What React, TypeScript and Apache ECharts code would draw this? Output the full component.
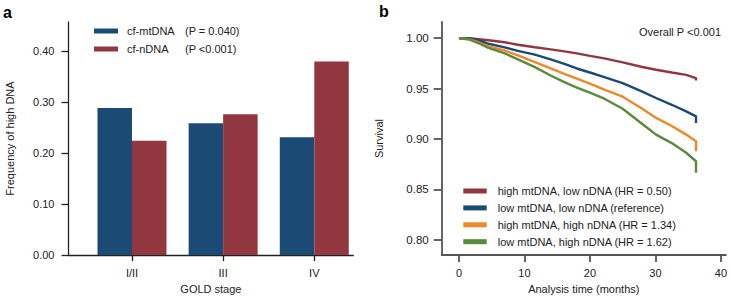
import { useEffect, useRef } from 'react';
import * as echarts from 'echarts';

// ---- Panel a data ----
const stages = ['I/II', 'III', 'IV'];
const stagePos = [1, 2, 3];
const mtValues = [0.288, 0.258, 0.231];
const nValues = [0.224, 0.276, 0.379];
const barNames = ['cf-mtDNA', 'cf-nDNA'];
const barPTexts = ['(P = 0.040)', '(P <0.001)'];
const freqTicks = [0, 0.1, 0.2, 0.3, 0.4];

// ---- Panel b data ----
const times = [0, 1.5, 3, 4.5, 7, 9, 11.6, 14, 16.1, 18, 20, 22.2, 25, 28, 30.1, 32.5, 34.7, 36.2];
const survHighMtLowN = [1.0, 1.0, 0.999, 0.998, 0.996, 0.9935, 0.991, 0.989, 0.987, 0.985, 0.9825, 0.98, 0.976, 0.9715, 0.9687, 0.966, 0.9637, 0.9605];
const survLowMtLowN = [1.0, 1.0, 0.998, 0.9945, 0.991, 0.9875, 0.9838, 0.979, 0.9746, 0.97, 0.966, 0.9615, 0.9555, 0.947, 0.9407, 0.934, 0.9275, 0.9225];
const survHighMtHighN = [1.0, 0.999, 0.996, 0.992, 0.9878, 0.983, 0.9763, 0.97, 0.9647, 0.96, 0.955, 0.949, 0.942, 0.93, 0.921, 0.913, 0.9044, 0.8978];
const survLowMtHighN = [1.0, 0.999, 0.995, 0.9904, 0.985, 0.979, 0.9713, 0.963, 0.9565, 0.951, 0.946, 0.94, 0.93, 0.915, 0.9044, 0.896, 0.8864, 0.878];
const endTime = 36.2;
const endDrops = [0.958, 0.916, 0.888, 0.8666];
const groupNames = [
  'high mtDNA, low nDNA (HR = 0.50)',
  'low mtDNA, low nDNA (reference)',
  'high mtDNA, high nDNA (HR = 1.34)',
  'low mtDNA, high nDNA (HR = 1.62)',
];
const survTicks = [0.8, 0.85, 0.9, 0.95, 1.0];
const timeTicks = [0, 10, 20, 30, 40];

const BLUE = '#1b4a75';
const RED = '#923740';
const ORANGE = '#eb892b';
const GREEN = '#5a8a3b';
const FONT = 'Liberation Sans, Arial, Helvetica, sans-serif';
const TXT = '#222';

export default function App() {
  const ref = useRef<HTMLDivElement>(null);
  useEffect(() => {
    if (!ref.current) return;
    const chart = echarts.init(ref.current, undefined, { renderer: 'svg' });
    const survSets = [survHighMtLowN, survLowMtLowN, survHighMtHighN, survLowMtHighN];
    const survColors = [RED, BLUE, ORANGE, GREEN];
    const axA = { color: '#222', width: 1.3 };
    const axB = { color: '#555', width: 1.8 };
    const label = { color: TXT, fontSize: 11, fontFamily: FONT };
    const option: any = {
      animation: false,
      textStyle: { fontFamily: FONT },
      grid: [
        { left: 68.5, top: 22, width: 284.8, height: 234, containLabel: false },
        { left: 441.7, top: 22, width: 285, height: 234, containLabel: false },
      ],
      xAxis: [
        {
          type: 'value', gridIndex: 0, min: 0.3034, max: 3.428,
          splitLine: { show: false },
          axisLine: { show: true, lineStyle: axA },
          axisTick: { show: true, length: 6, lineStyle: axA, customValues: stagePos },
          axisLabel: { ...label, margin: 12, customValues: stagePos, formatter: (v: number) => stages[Math.round(v) - 1] ?? '' },
          name: 'GOLD stage', nameLocation: 'middle', nameGap: 27, nameTextStyle: label,
        },
        {
          type: 'value', gridIndex: 1, min: -2.634, max: 40.76,
          splitLine: { show: false },
          axisLine: { show: true, onZero: false, lineStyle: axB },
          axisTick: { show: true, length: 7, lineStyle: axB, customValues: timeTicks },
          axisLabel: { ...label, margin: 12, customValues: timeTicks, formatter: (v: number) => String(Math.round(v)) },
          name: 'Analysis time (months)', nameLocation: 'middle', nameGap: 27, nameTextStyle: label,
        },
      ],
      yAxis: [
        {
          type: 'value', gridIndex: 0, min: 0, max: 0.4565,
          splitLine: { show: false },
          axisLine: { show: true, lineStyle: axA },
          axisTick: { show: true, length: 7, lineStyle: axA, customValues: freqTicks },
          axisLabel: { ...label, margin: 14, customValues: freqTicks, formatter: (v: number) => v.toFixed(2) },
          name: 'Frequency of high DNA', nameLocation: 'middle', nameGap: 53, nameTextStyle: label,
        },
        {
          type: 'value', gridIndex: 1, min: 0.7849, max: 1.0161,
          splitLine: { show: false },
          axisLine: { show: true, onZero: false, lineStyle: axB },
          axisTick: { show: true, length: 8, lineStyle: axB, customValues: survTicks },
          axisLabel: { ...label, fontSize: 11.5, margin: 13, customValues: survTicks, formatter: (v: number) => v.toFixed(2) },
          name: 'Survival', nameLocation: 'middle', nameGap: 57, nameTextStyle: label,
        },
      ],
      legend: [
        {
          data: barNames, orient: 'vertical', left: 89, top: 20.5,
          itemWidth: 24, itemHeight: 5, itemGap: 7, icon: 'rect',
          formatter: (name: string) => `{s|}{n|${name}}{p|${barPTexts[barNames.indexOf(name)]}}`,
          textStyle: {
            ...label,
            rich: {
              s: { width: 4, fontSize: 11, fontFamily: FONT },
              n: { width: 58, fontSize: 11, fontFamily: FONT, color: TXT },
              p: { fontSize: 11, fontFamily: FONT, color: TXT },
            },
          },
        },
        {
          data: groupNames, orient: 'vertical', left: 458.3, top: 180.5,
          itemWidth: 23.4, itemHeight: 5, itemGap: 5.9, icon: 'rect',
          formatter: (name: string) => `{s|}{n|${name}}`,
          textStyle: {
            ...label,
            rich: {
              s: { width: 6, fontSize: 11, fontFamily: FONT },
              n: { fontSize: 11, fontFamily: FONT, color: TXT },
            },
          },
        },
      ],
      series: [
        {
          name: barNames[0], type: 'bar', xAxisIndex: 0, yAxisIndex: 0,
          barWidth: 34.5, barGap: '0%',
          itemStyle: { color: BLUE },
          data: stagePos.map((p, i) => [p, mtValues[i]]),
        },
        {
          name: barNames[1], type: 'bar', xAxisIndex: 0, yAxisIndex: 0,
          barWidth: 34.5, barGap: '0%',
          itemStyle: { color: RED },
          data: stagePos.map((p, i) => [p, nValues[i]]),
        },
        ...survSets.map((vals, k) => ({
          name: groupNames[k], type: 'line', xAxisIndex: 1, yAxisIndex: 1,
          showSymbol: false, symbol: 'none',
          lineStyle: { color: survColors[k], width: 2.4 },
          itemStyle: { color: survColors[k] },
          data: times.map((t, i) => [t, vals[i]]).concat([[endTime, endDrops[k]]]),
        })),
      ],
      graphic: [
        { type: 'text', x: 3, y: 4, style: { text: 'a', font: `bold 16px ${FONT}`, fill: '#000' } },
        { type: 'text', x: 379, y: 3, style: { text: 'b', font: `bold 16px ${FONT}`, fill: '#000' } },
        {
          type: 'text', x: 721, y: 32,
          style: { text: 'Overall P <0.001', font: `11px ${FONT}`, fill: TXT, align: 'right', verticalAlign: 'middle' },
        },
      ],
    };
    chart.setOption(option);
    return () => chart.dispose();
  }, []);
  return <div ref={ref} style={{ position: 'fixed', left: 0, top: 0, width: 730, height: 299, background: '#fff' }} />;
}
